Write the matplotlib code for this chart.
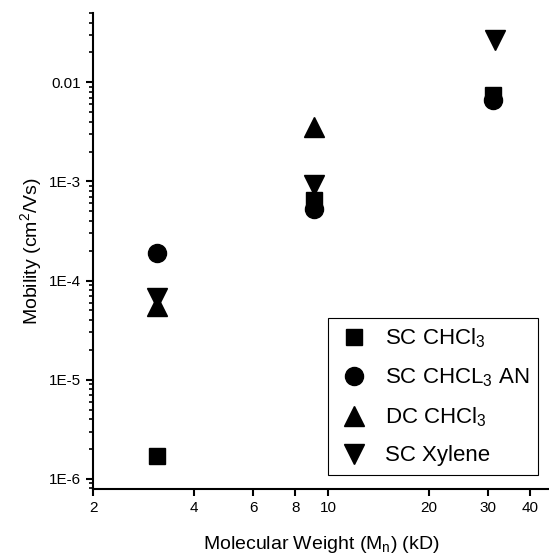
import numpy as np
import matplotlib
matplotlib.use("Agg")
import matplotlib.pyplot as plt
from matplotlib.ticker import LogLocator, FixedLocator, FixedFormatter, NullLocator

plt.rcParams['font.family'] = ['Liberation Sans', 'DejaVu Sans']
plt.rcParams['mathtext.default'] = 'regular'

# molecular weight (kD) and mobility (cm^2/Vs) per series
mw_sc_chcl3 = [3.1, 9.1, 31.0]
mu_sc_chcl3 = [1.7e-6, 6.5e-4, 7.5e-3]

mw_sc_chcl3_an = [3.1, 9.1, 31.0]
mu_sc_chcl3_an = [1.9e-4, 5.3e-4, 6.6e-3]

mw_dc_chcl3 = [3.1, 9.1]
mu_dc_chcl3 = [5.6e-5, 3.5e-3]

mw_sc_xylene = [3.1, 9.1, 31.5]
mu_sc_xylene = [6.6e-5, 9.2e-4, 2.7e-2]

x_ticks = [2, 4, 6, 8, 10, 20, 30, 40]
y_tick_labels = ['1E-6', '1E-5', '1E-4', '1E-3', '0.01']

fig = plt.figure(figsize=(5.49, 5.58), dpi=100)
ax = fig.add_axes([0.1694, 0.1237, 0.8306, 0.853])

ax.plot(mw_sc_chcl3, mu_sc_chcl3, 's', color='black', ms=12, label='SC CHCl$_3$')
ax.plot(mw_sc_chcl3_an, mu_sc_chcl3_an, 'o', color='black', ms=13, label='SC CHCL$_3$ AN')
ax.plot(mw_dc_chcl3, mu_dc_chcl3, '^', color='black', ms=14, label='DC CHCl$_3$')
ax.plot(mw_sc_xylene, mu_sc_xylene, 'v', color='black', ms=14, label='SC Xylene')

ax.set_xscale('log')
ax.set_yscale('log')
ax.set_xlim(2, 45.5)
ax.set_ylim(7.9e-7, 0.05)

ax.xaxis.set_major_locator(FixedLocator(x_ticks))
ax.xaxis.set_major_formatter(FixedFormatter([str(t) for t in x_ticks]))
ax.xaxis.set_minor_locator(NullLocator())

ax.yaxis.set_major_locator(FixedLocator([1e-6, 1e-5, 1e-4, 1e-3, 1e-2]))
ax.yaxis.set_major_formatter(FixedFormatter(y_tick_labels))
ax.yaxis.set_minor_locator(LogLocator(base=10, subs=np.arange(2, 10), numticks=20))

for s in ['top', 'right']:
    ax.spines[s].set_visible(False)
for s in ['left', 'bottom']:
    ax.spines[s].set_linewidth(1.5)

ax.tick_params(which='major', direction='out', length=5, width=1.5, labelsize=11, pad=4)
ax.tick_params(which='minor', direction='out', length=3, width=1.2)

ax.set_xlabel('Molecular Weight (M$_n$) (kD)', fontsize=14, labelpad=13)
ax.set_ylabel('Mobility (cm$^2$/Vs)', fontsize=14, labelpad=3)

leg = ax.legend(loc='lower right', bbox_to_anchor=(0.976, 0.029), fontsize=16,
                frameon=True, fancybox=False, edgecolor='black', framealpha=1,
                handlelength=1.6, handletextpad=0.57, labelspacing=0.73,
                borderpad=0.4, borderaxespad=0, numpoints=1)
leg.get_frame().set_linewidth(0.8)

fig.savefig('out.png', dpi=100)
